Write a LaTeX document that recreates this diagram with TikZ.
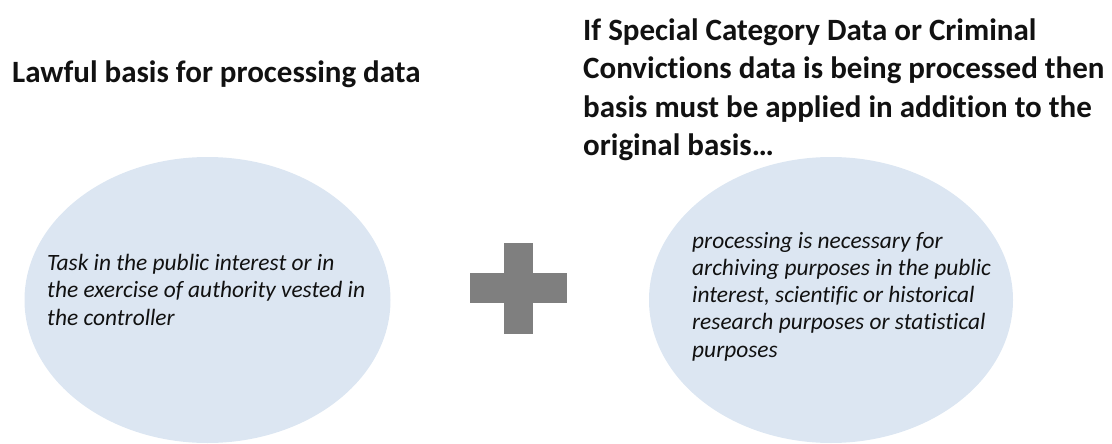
\documentclass[tikz,border=0pt]{standalone}
\usepackage{fontspec}
\setmainfont{Carlito}[Ligatures=NoCommon]
\usetikzlibrary{shapes.geometric}
\definecolor{ellfill}{HTML}{DCE6F2}
\definecolor{plusgray}{HTML}{7F7F7F}
\definecolor{ink}{HTML}{111111}
\tikzset{
  ellnode/.style={ellipse, fill=ellfill, draw=none, inner sep=0pt},
  plusbar/.style={rectangle, fill=plusgray, draw=none, inner sep=0pt},
  titletext/.style={inner sep=0pt, text=ink, align=left, font=\bfseries\fontsize{31}{38.3}\selectfont},
  bodytext/.style={inner sep=0pt, text=ink, align=left, font=\itshape\fontsize{23.4}{27.2}\selectfont}
}
\begin{document}
\begin{tikzpicture}[x=1pt,y=-1pt]
\useasboundingbox (0,0) rectangle (1112,444);
\node[ellnode, minimum width=366pt, minimum height=286pt] (left) at (207.5,300) {};
\node[ellnode, minimum width=364pt, minimum height=286pt] (right) at (831,300) {};
\node[plusbar, minimum width=29pt, minimum height=91pt] (plusv) at (518.5,288.5) {};
\node[plusbar, minimum width=97pt, minimum height=30pt] (plush) at (518.5,288) {};
\node[titletext, anchor=base west] (t1) at (12,83) {Lawful basis for processing data};
\node[titletext, anchor=base west] (t2) at (583,155.5) {If Special Category Data or Criminal\\Convictions data is being processed then\\basis must be applied in addition to the\\original basis\ldots};
\node[bodytext, anchor=base west] (b1) at (47,325) {Task in the public interest or in\\the exercise of authority vested in\\the controller};
\node[bodytext, anchor=base west] (b2) at (692,357) {processing is necessary for\\archiving purposes in the public\\interest, scientific or historical\\research purposes or statistical\\purposes};
\end{tikzpicture}
\end{document}
